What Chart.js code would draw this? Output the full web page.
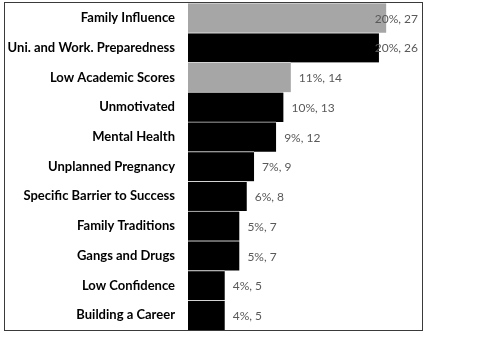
<!DOCTYPE html>
<html>
<head>
<meta charset="utf-8">
<script src="https://cdn.jsdelivr.net/npm/chart.js@4/dist/chart.umd.min.js"></script>
<style>
  html, body { margin: 0; padding: 0; background: #fff; }
  #wrap { width: 484px; height: 340px; position: relative; }
  canvas { display: block; }
</style>
</head>
<body>
<div id="wrap"><canvas id="c" width="484" height="340"></canvas></div>
<script>
// Reasons cited, with share of responses and number of responses
const categories = [
  'Family Influence',
  'Uni. and Work. Preparedness',
  'Low Academic Scores',
  'Unmotivated',
  'Mental Health',
  'Unplanned Pregnancy',
  'Specific Barrier to Success',
  'Family Traditions',
  'Gangs and Drugs',
  'Low Confidence',
  'Building a Career'
];
const counts = [27, 26, 14, 13, 12, 9, 8, 7, 7, 5, 5];
const percents = [20, 20, 11, 10, 9, 7, 6, 5, 5, 4, 4];
const highlighted = [true, false, true, false, false, false, false, false, false, false, false];

const PLOT_LEFT = 188;

// Value labels "pct%, n" beside each bar, kept inside the frame
const valueLabels = {
  id: 'valueLabels',
  afterDatasetsDraw(chart) {
    const ctx = chart.ctx;
    const meta = chart.getDatasetMeta(0);
    const right = chart.chartArea.right;
    ctx.save();
    ctx.font = '12px Lato, "Open Sans", sans-serif';
    ctx.fillStyle = '#595959';
    ctx.textBaseline = 'middle';
    ctx.textAlign = 'left';
    meta.data.forEach((bar, i) => {
      const text = percents[i] + '%, ' + counts[i];
      const w = ctx.measureText(text).width;
      let x = bar.x + 8;
      if (x + w > right - 5) x = right - 5 - w;
      ctx.fillText(text, x, bar.y + 1);
    });
    ctx.restore();
  }
};

// Thin dark frame around the whole figure
const frame = {
  id: 'frame',
  afterDraw(chart) {
    const ctx = chart.ctx;
    ctx.save();
    ctx.strokeStyle = '#3a3a3a';
    ctx.lineWidth = 1;
    ctx.strokeRect(4.5, 2.5, 418, 328);
    ctx.restore();
  }
};

new Chart(document.getElementById('c'), {
  type: 'bar',
  data: {
    labels: categories,
    datasets: [{
      data: counts,
      backgroundColor: highlighted.map(h => h ? '#a6a6a6' : '#000000'),
      borderColor: '#d4d4d4',
      borderWidth: { top: 1, right: 0, bottom: 0, left: 0 },
      borderSkipped: false,
      barPercentage: 1,
      categoryPercentage: 1
    }]
  },
  options: {
    indexAxis: 'y',
    responsive: false,
    animation: false,
    layout: { padding: { left: 0, top: 3, right: 61, bottom: 10 } },
    plugins: {
      legend: { display: false },
      tooltip: { enabled: false }
    },
    scales: {
      x: {
        display: false,
        min: 0,
        max: 32
      },
      y: {
        afterFit(scale) {
          scale.width = PLOT_LEFT;
          scale.paddingTop = 0;
          scale.paddingBottom = 0;
        },
        grid: { display: false, drawTicks: false },
        border: { display: true, color: '#bfbfbf', width: 1 },
        ticks: {
          padding: 13,
          color: '#000000',
          font: { family: 'Lato, "Open Sans", sans-serif', size: 13, weight: 'bold' }
        }
      }
    }
  },
  plugins: [valueLabels, frame]
});
</script>
</body>
</html>
